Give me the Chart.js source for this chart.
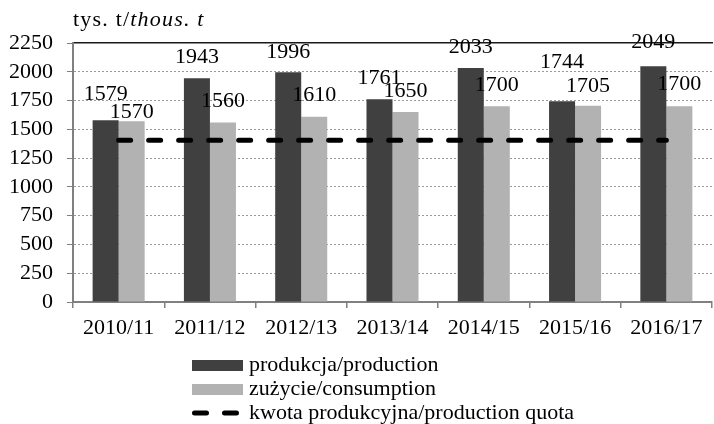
<!DOCTYPE html>
<html>
<head>
<meta charset="utf-8">
<script src="https://cdn.jsdelivr.net/npm/chart.js@4/dist/chart.umd.min.js"></script>
<style>
html,body{margin:0;padding:0;background:#fff;}
#wrap{width:714px;height:424px;}
</style>
</head>
<body>
<div id="wrap"><canvas id="c" width="714" height="424"></canvas></div>
<script>
// ---- data ----
const categories = ['2010/11','2011/12','2012/13','2013/14','2014/15','2015/16','2016/17'];
const production = [1579, 1943, 1996, 1761, 2033, 1744, 2049];
const consumption = [1570, 1560, 1610, 1650, 1700, 1705, 1700];
const quotaValue = 1405;
const quota = categories.map(() => quotaValue);
const yTicks = [0, 250, 500, 750, 1000, 1250, 1500, 1750, 2000, 2250];
const seriesNames = ['produkcja/production', 'zużycie/consumption', 'kwota produkcyjna/production quota'];
const unitRegular = 'tys. t/';
const unitItalic = 'thous. t';

// ---- label placement (vertical lift of value labels above bar tops, px) ----
const liftProduction = [26, 21, 20, 21, 21, 39, 24];
const liftConsumption = [9, 21, 21, 21, 21, 20, 22];

const FONT = "'Liberation Serif', 'Times New Roman', serif";
const FS = 22;
Chart.defaults.font.family = FONT;
Chart.defaults.font.size = FS;
Chart.defaults.color = '#000';

const valueLabels = {
  id: 'valueLabels',
  afterDatasetsDraw(chart) {
    const ctx = chart.ctx;
    ctx.save();
    ctx.font = FS + 'px ' + FONT;
    ctx.fillStyle = '#000';
    ctx.textAlign = 'center';
    ctx.textBaseline = 'middle';
    [[0, production, liftProduction], [1, consumption, liftConsumption]].forEach(([di, vals, lifts]) => {
      const meta = chart.getDatasetMeta(di);
      meta.data.forEach((bar, i) => {
        ctx.fillText(String(vals[i]), bar.x, bar.y - lifts[i]);
      });
    });
    ctx.restore();
  }
};

const extras = {
  id: 'extras',
  afterDraw(chart) {
    const ctx = chart.ctx;
    ctx.save();
    // unit title
    ctx.textBaseline = 'middle';
    ctx.textAlign = 'left';
    ctx.fillStyle = '#000';
    try { ctx.letterSpacing = '1.2px'; } catch (e) {}
    ctx.font = '22px ' + FONT;
    let x = 73;
    ctx.fillText(unitRegular, x, 20);
    x += ctx.measureText(unitRegular).width;
    ctx.font = 'italic 22px ' + FONT;
    ctx.fillText(unitItalic, x, 20);
    try { ctx.letterSpacing = '0px'; } catch (e) {}

    // legend
    const ds = chart.data.datasets;
    const sx = 192, sw = 51, tx = 249;
    const rows = [365.5, 389.5, 413];
    ctx.font = FS + 'px ' + FONT;
    for (let k = 0; k < 3; k++) {
      const cy = rows[k];
      if (k < 2) {
        ctx.fillStyle = ds[k].backgroundColor;
        ctx.fillRect(sx, cy - 5.5, sw, 11);
      } else {
        ctx.save();
        ctx.strokeStyle = ds[2].borderColor;
        ctx.lineWidth = ds[2].borderWidth;
        ctx.lineCap = 'round';
        ctx.setLineDash(ds[2].borderDash);
        ctx.beginPath();
        ctx.moveTo(sx + 2.5, cy);
        ctx.lineTo(sx + sw - 5, cy);
        ctx.stroke();
        ctx.restore();
      }
      ctx.fillStyle = '#000';
      ctx.fillText(ds[k].label, tx, cy);
    }
    ctx.restore();
  }
};

new Chart(document.getElementById('c'), {
  data: {
    labels: categories,
    datasets: [
      { type: 'bar', label: seriesNames[0], data: production, backgroundColor: '#404040', order: 2,
        categoryPercentage: 0.57, barPercentage: 1.0 },
      { type: 'bar', label: seriesNames[1], data: consumption, backgroundColor: '#b2b2b2', order: 2,
        categoryPercentage: 0.57, barPercentage: 1.0 },
      { type: 'line', label: seriesNames[2], data: quota, borderColor: '#000', borderWidth: 5,
        borderDash: [12, 18], borderCapStyle: 'round', pointRadius: 0, fill: false, order: 1 }
    ]
  },
  options: {
    responsive: false,
    animation: false,
    layout: { padding: { left: 0, right: 2, top: 43, bottom: 82 } },
    plugins: { legend: { display: false }, tooltip: { enabled: false } },
    scales: {
      x: {
        position: 'bottom',
        offset: true,
        grid: { offset: true, drawOnChartArea: false, drawTicks: true, tickLength: 6, color: '#808080', lineWidth: 1.5 },
        border: { display: true, color: '#808080', width: 2 },
        ticks: { padding: 7, color: '#000', font: { size: FS }, maxRotation: 0, autoSkip: false },
        afterFit(s) { s.height = 40; }
      },
      xTop: {
        type: 'category',
        position: 'top',
        labels: categories,
        grid: { drawOnChartArea: false, drawTicks: false },
        border: { display: true, color: '#1a1a1a', width: 1.5 },
        ticks: { display: false },
        afterFit(s) { s.height = 0; }
      },
      y: {
        min: 0, max: 2250,
        afterBuildTicks(s) { s.ticks = yTicks.map(v => ({ value: v })); },
        grid: {
          color: (c) => (c.tick && c.tick.value === 2250) ? 'rgba(0,0,0,0)' : (c.tick && c.tick.value === 0 ? '#808080' : '#9a9a9a'),
          tickColor: '#808080',
          drawTicks: true, tickLength: 6, lineWidth: 1
        },
        border: { display: true, color: '#808080', width: 2, dash: [2, 2] },
        ticks: { padding: 14, color: '#000', font: { size: FS }, autoSkip: false, callback: (v) => String(v) },
        afterFit(s) { s.width = 73; }
      }
    }
  },
  plugins: [valueLabels, extras]
});
</script>
</body>
</html>
